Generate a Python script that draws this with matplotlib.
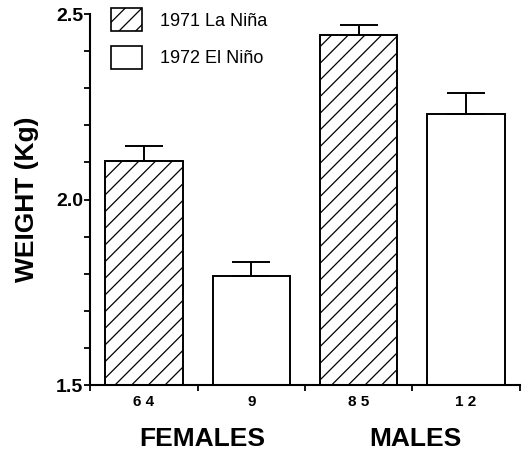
import matplotlib
matplotlib.use("Agg")
import matplotlib.pyplot as plt
import numpy as np

# mean weight per group and the upper error
groups     = ["FEMALES", "MALES"]
years      = ["1971 La Niña", "1972 El Niño"]
counts     = ["6 4", "9", "8 5", "1 2"]
weights    = [2.105, 1.793, 2.444, 2.231]
errors     = [0.040, 0.039, 0.026, 0.057]
is_lanina  = [True, False, True, False]

plt.rcParams['font.family'] = ['Liberation Sans', 'DejaVu Sans']
plt.rcParams['hatch.linewidth'] = 0.9

fig = plt.figure(figsize=(5.24, 4.53), dpi=100)
ax = fig.add_axes([0.172, 0.150, 0.820, 0.819])

xs = np.arange(len(weights)) + 0.5
bw = 0.72

for x, w, la in zip(xs, weights, is_lanina):
    ax.bar(x, w - 1.5, bottom=1.5, width=bw, facecolor="white",
           edgecolor="black", linewidth=1.4, hatch="//" if la else None,
           zorder=2)

ax.errorbar(xs, weights, yerr=[np.zeros(len(errors)), errors], fmt="none",
            ecolor="black", elinewidth=1.4, capsize=13.5, capthick=1.4,
            zorder=3)

# legend
h1 = plt.Rectangle((0, 0), 1, 1, facecolor="white", edgecolor="black",
                   linewidth=1.2, hatch="//")
h2 = plt.Rectangle((0, 0), 1, 1, facecolor="white", edgecolor="black",
                   linewidth=1.2)
ax.legend([h1, h2], years, loc="upper left", bbox_to_anchor=(0.032, 1.035),
          frameon=False, fontsize=13, handlelength=1.7, handleheight=1.55,
          handletextpad=1.0, labelspacing=0.85, borderaxespad=0)

ax.set_xlim(0, 4)
ax.set_ylim(1.5, 2.5)

ax.spines["top"].set_visible(False)
ax.spines["right"].set_visible(False)
ax.spines["left"].set_linewidth(1.5)
ax.spines["bottom"].set_linewidth(1.5)

ax.set_yticks([1.5, 2.0, 2.5])
ax.set_yticklabels(["1.5", "2.0", "2.5"], fontsize=14, fontweight="bold")
ax.set_yticks(np.arange(1.5, 2.51, 0.1), minor=True)
ax.tick_params(axis="y", which="both", direction="out", length=4, width=1.3,
               pad=1)

ax.set_xticks(xs)
ax.set_xticklabels(counts, fontsize=11, fontweight="bold")
ax.set_xticks(np.arange(0, 5), minor=True)
ax.tick_params(axis="x", which="major", length=0, pad=7)
ax.tick_params(axis="x", which="minor", direction="out", length=4, width=1.3)

ax.set_ylabel("WEIGHT (Kg)", fontsize=19, fontweight="bold", labelpad=12)

for gx, g in zip([1.04, 3.03], groups):
    ax.text(gx, -0.145, g, transform=ax.get_xaxis_transform(), ha="center",
            va="center", fontsize=19, fontweight="bold")

fig.savefig("out.png", dpi=100)
